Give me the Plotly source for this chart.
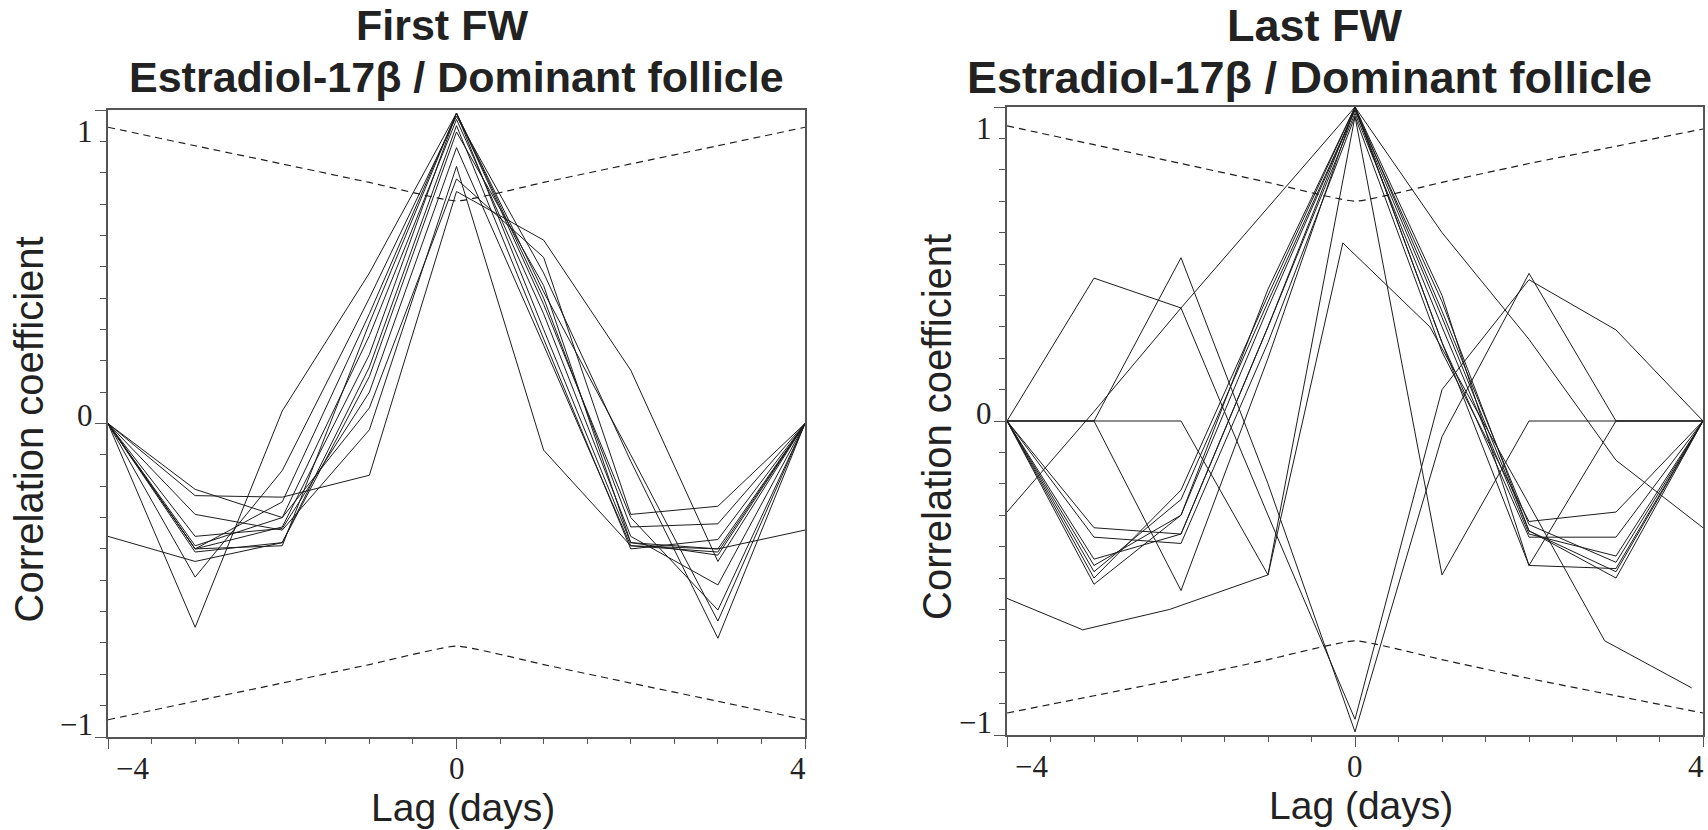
import plotly.graph_objects as go

# ---------------- data ----------------
lags = [-4, -3, -2, -1, 0, 1, 2, 3, 4]

# First FW : Estradiol-17beta / Dominant follicle (one list per cross-correlation series)
first_1 = [0, -0.65, 0.04, 0.48, 0.99, 0.42, -0.10, -0.63, 0]
first_2 = [0, -0.49, -0.15, 0.40, 0.98, 0.48, -0.12, -0.685, 0]
first_3 = [0, -0.40, -0.25, 0.35, 0.99, 0.38, -0.30, -0.595, 0]
first_4 = [0, -0.39, -0.30, 0.28, 0.97, 0.35, -0.36, -0.515, 0]
first_5 = [0, -0.40, -0.33, 0.22, 0.99, 0.30, -0.38, -0.42, 0]
first_6 = [0, -0.41, -0.38, 0.18, 0.95, 0.27, -0.40, -0.37, 0]
first_7 = [0, -0.36, -0.335, 0.10, 0.88, 0.25, -0.39, -0.40, 0]
first_8 = [0, -0.29, -0.34, -0.02, 0.82, -0.085, -0.39, -0.41, 0]
first_9 = [0, -0.23, -0.235, -0.165, 0.74, 0.585, 0.17, -0.44, 0]
first_10 = [0, -0.21, -0.30, 0.05, 0.78, 0.53, -0.29, -0.264, 0]
first_11 = [-0.36, -0.44, -0.38, 0.15, 0.93, 0.44, -0.38, -0.40, -0.34]
first_12 = [0, -0.40, -0.39, 0.32, 0.99, 0.40, -0.33, -0.32, 0]
first_upper = [0.945, 0.886, 0.828, 0.769, 0.71, 0.769, 0.828, 0.886, 0.945]
first_lower = [-0.945, -0.886, -0.828, -0.769, -0.71, -0.769, -0.828, -0.886, -0.945]

# Last FW : Estradiol-17beta / Dominant follicle
last_1 = [0, -0.50, -0.22, 0.40, 1.00, 0.35, -0.33, -0.45, 0]
last_2 = [0, -0.46, -0.30, 0.36, 0.99, 0.38, -0.35, -0.50, 0]
last_3 = [0, -0.44, -0.36, 0.30, 0.98, 0.30, -0.36, -0.43, 0]
last_4 = [0, -0.34, -0.36, 0.30, 1.00, 0.25, -0.37, -0.37, 0]
last_5 = [0, -0.37, -0.39, 0.25, 0.97, 0.22, -0.32, -0.29, 0]
last_6 = [0, -0.52, -0.30, 0.42, 1.00, 0.40, -0.46, -0.47, 0]
last_7 = [0, -0.48, -0.25, 0.38, 0.99, 0.33, -0.35, -0.48, 0]
last_8 = [-0.29, 0.03, 0.36, 0.68, 1.00, 0.60, 0.26, -0.125, -0.34]
last_9 = [0, 0.455, 0.36, -0.30, -0.95, 0.10, 0.45, 0.29, 0]
last_10 = [0, 0, 0.52, -0.20, -0.99, -0.05, 0.47, 0, 0]
last_11 = [0, 0, 0, -0.49, 0.97, -0.49, 0, 0, 0]
last_12 = [0, 0, -0.54, 0.20, 1.00, 0.25, -0.46, 0, 0]
last_13_lags = [-4.13, -3.13, -2.13, -1.0, -0.14, 0.86, 1.87, 2.87, 3.87]
last_13 = [-0.55, -0.665, -0.60, -0.49, 0.567, 0.30, -0.20, -0.70, -0.85]
last_upper = [0.94, 0.88, 0.82, 0.76, 0.70, 0.76, 0.82, 0.875, 0.93]
last_lower = [-0.93, -0.875, -0.82, -0.76, -0.70, -0.76, -0.82, -0.875, -0.93]

x_ticks = [-4, 0, 4]
x_tick_text = ["\u22124", "0", "4"]
y_ticks = [-1, 0, 1]
y_tick_text = ["\u22121", "0", "1"]

titles = ["First FW", "Last FW"]
subtitle = "Estradiol-17\u03b2 / Dominant follicle"
x_title = "Lag (days)"
y_title = "Correlation coefficient"

# ---------------- figure ----------------
LINE = "#1c1c1c"
FRAME = "#555555"
SANS = "Liberation Sans, Arial, sans-serif"
SERIF = "Liberation Serif, Times New Roman, serif"

fig = go.Figure()

first_series = [first_1, first_2, first_3, first_4, first_5, first_6,
                first_7, first_8, first_9, first_10, first_11, first_12]
last_series = [last_1, last_2, last_3, last_4, last_5, last_6, last_7,
               last_8, last_9, last_10, last_11, last_12]

for s in first_series:
    fig.add_trace(go.Scatter(x=lags, y=s, mode="lines", xaxis="x", yaxis="y",
                             line=dict(color=LINE, width=1), showlegend=False,
                             hoverinfo="skip"))
for b in (first_upper, first_lower):
    fig.add_trace(go.Scatter(x=lags, y=b, mode="lines", xaxis="x", yaxis="y",
                             line=dict(color=LINE, width=1.2, dash="7px,5px",
                                       shape="spline", smoothing=0.4),
                             showlegend=False, hoverinfo="skip"))

for s in last_series:
    fig.add_trace(go.Scatter(x=lags, y=s, mode="lines", xaxis="x2", yaxis="y2",
                             line=dict(color=LINE, width=1), showlegend=False,
                             hoverinfo="skip"))
fig.add_trace(go.Scatter(x=last_13_lags, y=last_13, mode="lines", xaxis="x2", yaxis="y2",
                         line=dict(color=LINE, width=1), showlegend=False,
                         hoverinfo="skip"))
for b in (last_upper, last_lower):
    fig.add_trace(go.Scatter(x=lags, y=b, mode="lines", xaxis="x2", yaxis="y2",
                             line=dict(color=LINE, width=1.2, dash="7px,5px",
                                       shape="spline", smoothing=0.4),
                             showlegend=False, hoverinfo="skip"))

W, H = 1708, 830


def xaxis(domain, anchor):
    return dict(domain=domain, anchor=anchor, range=[-4, 4], showgrid=False,
                zeroline=False, showline=True, mirror=True, linecolor=FRAME,
                linewidth=1.5, ticks="outside", tickvals=x_ticks, ticklen=10,
                tickwidth=1.2, tickcolor=FRAME, showticklabels=False,
                minor=dict(dtick=0.5, tick0=-4, ticks="outside", ticklen=5,
                           tickwidth=1, tickcolor=FRAME))


def yaxis(domain, anchor):
    return dict(domain=domain, anchor=anchor, range=[-1, 1], showgrid=False,
                zeroline=False, showline=True, mirror=True, linecolor=FRAME,
                linewidth=1.5, ticks="outside", tickvals=y_ticks, ticklen=11,
                tickwidth=1.2, tickcolor=FRAME, showticklabels=False,
                minor=dict(dtick=0.1, tick0=0, ticks="outside", ticklen=6,
                           tickwidth=1, tickcolor=FRAME))


left_x = [108 / W, 805 / W]
left_y = [1 - 737 / H, 1 - 110 / H]
right_x = [1007 / W, 1703 / W]
right_y = [1 - 735 / H, 1 - 107 / H]

fig.update_layout(
    width=W, height=H, margin=dict(l=0, r=0, t=0, b=0),
    paper_bgcolor="white", plot_bgcolor="white",
    xaxis=xaxis(left_x, "y"), yaxis=yaxis(left_y, "x"),
    xaxis2=xaxis(right_x, "y2"), yaxis2=yaxis(right_y, "x2"),
)

ann = []
panels = [("x", "y"), ("x2", "y2")]
x_label_pos = [-3.72, 0, 3.92]
y_label_pos = [-0.96, 0.025, 0.93]
y_title_shift = [-80, -70]
title_size = [43, 45]
title_shift = [-15, -40]
subtitle_shift = [0, -46]
for i, (xa, ya) in enumerate(panels):
    # tick labels
    for xv, txt in zip(x_label_pos, x_tick_text):
        ann.append(dict(x=xv, y=0, xref=xa, yref=f"{ya} domain", text=txt,
                        showarrow=False, xanchor="center", yanchor="middle",
                        yshift=-31, font=dict(family=SERIF, size=31, color="#222")))
    for yv, txt in zip(y_label_pos, y_tick_text):
        ann.append(dict(x=0, y=yv, xref=f"{xa} domain", yref=ya, text=txt,
                        showarrow=False, xanchor="right", yanchor="middle",
                        xshift=-13, font=dict(family=SERIF, size=31, color="#222")))
    # axis titles
    ann.append(dict(x=0.5, y=0, xref=f"{xa} domain", yref=f"{ya} domain", text=x_title,
                    showarrow=False, xanchor="center", yanchor="middle",
                    xshift=6, yshift=-70, font=dict(family=SANS, size=39, color="#222")))
    ann.append(dict(x=0, y=0.5, xref=f"{xa} domain", yref=f"{ya} domain", text=y_title,
                    showarrow=False, xanchor="center", yanchor="middle", textangle=-90,
                    xshift=y_title_shift[i], yshift=-6,
                    font=dict(family=SANS, size=40, color="#222")))
    # titles
    ann.append(dict(x=0.5, y=1, xref=f"{xa} domain", yref="paper", text=f"<b>{titles[i]}</b>",
                    showarrow=False, xanchor="center", yanchor="middle",
                    xshift=title_shift[i], yshift=-25,
                    font=dict(family=SANS, size=title_size[i], color="#222")))
    ann.append(dict(x=0.5, y=1, xref=f"{xa} domain", yref="paper", text=f"<b>{subtitle}</b>",
                    showarrow=False, xanchor="center", yanchor="middle",
                    xshift=subtitle_shift[i], yshift=-77,
                    font=dict(family=SANS, size=title_size[i], color="#222")))

fig.update_layout(annotations=ann)
fig.write_html("out.html")
